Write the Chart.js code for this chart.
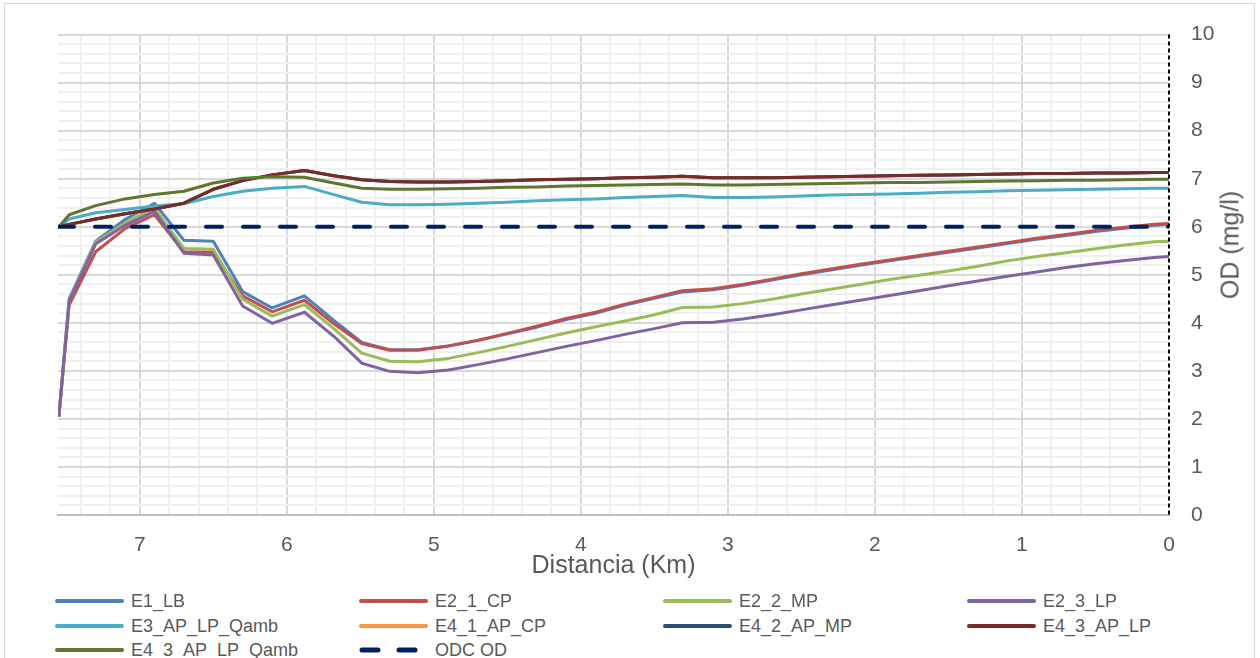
<!DOCTYPE html>
<html lang="es">
<head>
<meta charset="utf-8">
<title>OD vs distancia</title>
<script src="https://cdn.jsdelivr.net/npm/chart.js@4.4.1/dist/chart.umd.min.js"></script>
<style>
  html, body { margin: 0; padding: 0; background: #fff; }
  #wrap { position: relative; width: 1260px; height: 658px; overflow: hidden; font-family: "Liberation Sans", Arial, sans-serif; }
  #frame { position: absolute; left: 4px; top: 3px; width: 1251px; height: 720px; border: 1px solid #d9d9d9; box-sizing: border-box; }
  #chart { position: absolute; left: 0; top: 0; }
  #ytitle { position: absolute; left: 1230px; top: 245px; transform: translate(-50%, -50%) rotate(-90deg); font-size: 25px; color: #595959; white-space: nowrap; }
  #legend { position: absolute; left: 0; top: 0; width: 1260px; }
  .item { position: absolute; display: flex; align-items: center; height: 24px; font-size: 18px; color: #595959; white-space: nowrap; }
  .item svg { margin-right: 7px; }
</style>
</head>
<body>
<div id="wrap">
  <div id="frame"></div>
  <canvas id="chart" width="1260" height="590"></canvas>
  <div id="ytitle">OD (mg/l)</div>
  <div id="legend"></div>
</div>
<script>
"use strict";

// distancia (km), de aguas arriba hacia la desembocadura
const distancia = [7.55, 7.48, 7.3, 7.1, 6.9, 6.7, 6.5, 6.3, 6.1, 5.88, 5.68, 5.49, 5.3, 5.11, 4.9, 4.7, 4.5, 4.3, 4.1, 3.9,
  3.7, 3.5, 3.31, 3.1, 2.9, 2.7, 2.5, 2.3, 2.1, 1.9, 1.7, 1.5, 1.3, 1.1, 0.9, 0.7, 0.5, 0.3, 0.1, 0];

const e1_LB = [2.05, 4.50, 5.70, 6.15, 6.49, 5.72, 5.70, 4.65, 4.31, 4.56, 4.05, 3.59, 3.44, 3.44, 3.52, 3.63, 3.77, 3.91, 4.07, 4.20,
  4.37, 4.51, 4.64, 4.69, 4.78, 4.89, 5.00, 5.10, 5.20, 5.29, 5.38, 5.47, 5.56, 5.65, 5.74, 5.82, 5.90, 5.97, 6.03, 6.05];
const e2_1_CP = [2.05, 4.37, 5.48, 5.96, 6.25, 5.48, 5.47, 4.56, 4.23, 4.47, 3.98, 3.57, 3.43, 3.43, 3.52, 3.64, 3.78, 3.93, 4.09, 4.22,
  4.39, 4.53, 4.67, 4.71, 4.80, 4.91, 5.02, 5.12, 5.22, 5.31, 5.40, 5.49, 5.58, 5.67, 5.76, 5.84, 5.92, 5.99, 6.05, 6.07];
const e2_2_MP = [2.05, 4.47, 5.68, 6.08, 6.39, 5.55, 5.53, 4.49, 4.14, 4.38, 3.88, 3.37, 3.20, 3.19, 3.26, 3.38, 3.51, 3.65, 3.79, 3.92,
  4.04, 4.17, 4.32, 4.33, 4.40, 4.49, 4.60, 4.70, 4.80, 4.90, 4.99, 5.08, 5.18, 5.29, 5.38, 5.46, 5.54, 5.62, 5.69, 5.70];
const e2_3_LP = [2.05, 4.45, 5.64, 6.03, 6.32, 5.45, 5.41, 4.35, 3.99, 4.22, 3.72, 3.16, 2.99, 2.96, 3.02, 3.13, 3.25, 3.38, 3.51, 3.63,
  3.76, 3.88, 4.00, 4.01, 4.08, 4.17, 4.27, 4.37, 4.47, 4.57, 4.67, 4.77, 4.87, 4.97, 5.06, 5.15, 5.23, 5.30, 5.36, 5.38];
const e3_AP_LP_Qamb = [6.00, 6.16, 6.29, 6.36, 6.43, 6.48, 6.63, 6.74, 6.80, 6.84, 6.67, 6.51, 6.46, 6.46, 6.47, 6.49, 6.51, 6.54, 6.56, 6.58,
  6.61, 6.63, 6.65, 6.61, 6.61, 6.62, 6.64, 6.66, 6.67, 6.68, 6.70, 6.72, 6.73, 6.75, 6.76, 6.77, 6.78, 6.79, 6.80, 6.80];
const e4_1_AP_CP = [6.00, 6.05, 6.16, 6.27, 6.37, 6.49, 6.78, 6.96, 7.08, 7.17, 7.06, 6.98, 6.94, 6.93, 6.93, 6.94, 6.96, 6.98, 6.99, 7.00,
  7.02, 7.03, 7.05, 7.02, 7.02, 7.02, 7.03, 7.04, 7.05, 7.06, 7.07, 7.08, 7.09, 7.10, 7.11, 7.11, 7.12, 7.12, 7.13, 7.13];
const e4_2_AP_MP = [6.00, 6.05, 6.16, 6.27, 6.37, 6.49, 6.78, 6.96, 7.08, 7.17, 7.06, 6.98, 6.94, 6.93, 6.93, 6.94, 6.96, 6.98, 6.99, 7.00,
  7.02, 7.03, 7.05, 7.02, 7.02, 7.02, 7.03, 7.04, 7.05, 7.06, 7.07, 7.08, 7.09, 7.10, 7.11, 7.11, 7.12, 7.12, 7.13, 7.13];
const e4_3_AP_LP = [6.00, 6.05, 6.16, 6.27, 6.37, 6.49, 6.78, 6.96, 7.08, 7.17, 7.06, 6.98, 6.94, 6.93, 6.93, 6.94, 6.96, 6.98, 6.99, 7.00,
  7.02, 7.03, 7.05, 7.02, 7.02, 7.02, 7.03, 7.04, 7.05, 7.06, 7.07, 7.08, 7.09, 7.10, 7.11, 7.11, 7.12, 7.12, 7.13, 7.13];
const e4_3_AP_LP_Qamb = [6.00, 6.25, 6.44, 6.58, 6.67, 6.74, 6.91, 7.01, 7.04, 7.03, 6.91, 6.80, 6.78, 6.78, 6.79, 6.80, 6.82, 6.83, 6.85, 6.86,
  6.87, 6.88, 6.89, 6.87, 6.87, 6.88, 6.89, 6.90, 6.91, 6.92, 6.92, 6.93, 6.94, 6.95, 6.96, 6.97, 6.97, 6.98, 6.99, 6.99];

// objetivo de calidad (ODC)
const odcDist = [7.556, 0];
const odcOD = [6, 6];

const xTickLabels = [0, 1, 2, 3, 4, 5, 6, 7];
const yTickLabels = [0, 1, 2, 3, 4, 5, 6, 7, 8, 9, 10];
const xMax = 7.556;
const minorStep = 0.2;

const series = [
  { label: "E1_LB", data: e1_LB, color: "#4f81bd" },
  { label: "E2_1_CP", data: e2_1_CP, color: "#c0504d" },
  { label: "E2_2_MP", data: e2_2_MP, color: "#9bbb59" },
  { label: "E2_3_LP", data: e2_3_LP, color: "#8064a2" },
  { label: "E3_AP_LP_Qamb", data: e3_AP_LP_Qamb, color: "#4bacc6" },
  { label: "E4_1_AP_CP", data: e4_1_AP_CP, color: "#f79646" },
  { label: "E4_2_AP_MP", data: e4_2_AP_MP, color: "#2c4d75" },
  { label: "E4_3_AP_LP", data: e4_3_AP_LP, color: "#772c2a" },
  { label: "E4_3_AP_LP_Qamb", data: e4_3_AP_LP_Qamb, color: "#5f7530" },
];

const tickColor = "#595959";
const fontFamily = "'Liberation Sans', Arial, sans-serif";
const isMajor = (v) => Math.abs(v - Math.round(v)) < 1e-6;

const minorTicks = (max) => {
  const out = [];
  for (let i = 0; i * minorStep <= max + 1e-9; i++) out.push(Math.round(i * minorStep * 10) / 10);
  return out;
};

const gridColor = (ctx) => (ctx.tick.value === 0 ? "rgba(0,0,0,0)" : isMajor(ctx.tick.value) ? "#d9d9d9" : "#f0f0f0");

// eje vertical punteado en x = 0 (el border.dash de Chart.js también puntearía la rejilla)
const dashedAxis = {
  id: "dashedAxis",
  afterDatasetsDraw(chart) {
    const { ctx, chartArea } = chart;
    const x = chart.scales.x.getPixelForValue(0);
    ctx.save();
    ctx.strokeStyle = "#000";
    ctx.lineWidth = 2;
    ctx.setLineDash([4, 3]);
    ctx.beginPath();
    ctx.moveTo(x, chartArea.top);
    ctx.lineTo(x, chartArea.bottom);
    ctx.stroke();
    ctx.restore();
  },
};

const datasets = series.map((s, i) => ({
  label: s.label,
  data: distancia.map((d, j) => ({ x: d, y: s.data[j] })),
  borderColor: s.color,
  backgroundColor: s.color,
  borderWidth: 3,
  pointRadius: 0,
  tension: 0,
  borderJoinStyle: "round",
  order: series.length + 1 - i,
}));
datasets.push({
  label: "ODC OD",
  data: odcDist.map((d, j) => ({ x: d, y: odcOD[j] })),
  borderColor: "#002060",
  backgroundColor: "#002060",
  borderWidth: 4,
  borderDash: [16, 21],
  borderCapStyle: "round",
  pointRadius: 0,
  order: 0,
});

new Chart(document.getElementById("chart"), {
  type: "line",
  data: { datasets },
  plugins: [dashedAxis],
  options: {
    responsive: false,
    animation: false,
    layout: { padding: { left: 58, top: 30, right: 0, bottom: 9 } },
    plugins: { legend: { display: false }, tooltip: { enabled: false } },
    scales: {
      x: {
        type: "linear",
        reverse: true,
        min: 0,
        max: xMax,
        afterBuildTicks: (s) => { s.ticks = minorTicks(xMax).map((v) => ({ value: v })); },
        afterFit: (s) => { s.height = 66; },
        ticks: {
          autoSkip: false,
          maxRotation: 0,
          padding: 18,
          color: tickColor,
          font: { family: fontFamily, size: 21 },
          callback: (v) => (isMajor(v) && xTickLabels.includes(Math.round(v)) ? String(Math.round(v)) : ""),
        },
        grid: { drawTicks: false, color: gridColor, lineWidth: 2 },
        border: { color: "#bfbfbf", width: 2 },
        title: {
          display: true,
          text: "Distancia (Km)",
          color: tickColor,
          font: { family: fontFamily, size: 25 },
          padding: 0,
        },
      },
      y: {
        position: "right",
        min: 0,
        max: 10,
        afterBuildTicks: (s) => { s.ticks = minorTicks(10).map((v) => ({ value: v })); },
        afterFit: (s) => { s.width = 91; },
        ticks: {
          autoSkip: false,
          padding: 22,
          color: tickColor,
          font: { family: fontFamily, size: 21 },
          callback: (v) => (isMajor(v) && yTickLabels.includes(Math.round(v)) ? String(Math.round(v)) : ""),
        },
        grid: { drawTicks: false, color: gridColor, lineWidth: 2 },
        border: { display: false },
      },
    },
  },
});

// leyenda en cuatro columnas, como la del original
const legend = document.getElementById("legend");
const legendItems = series.map((s) => ({ label: s.label, color: s.color, dashed: false }))
  .concat([{ label: "ODC OD", color: "#002060", dashed: true }]);
const colLeft = [55, 359, 663, 967];
const rowTop = [589, 614, 638];
legendItems.forEach((it, i) => {
  const el = document.createElement("div");
  el.className = "item";
  el.style.left = colLeft[i % 4] + "px";
  el.style.top = rowTop[Math.floor(i / 4)] + "px";
  const line = it.dashed
    ? `<line x1="3" y1="4" x2="66" y2="4" stroke="${it.color}" stroke-width="5" stroke-linecap="round" stroke-dasharray="16 21"/>`
    : `<line x1="2" y1="4" x2="67" y2="4" stroke="${it.color}" stroke-width="4" stroke-linecap="round"/>`;
  el.innerHTML = `<svg width="69" height="8">${line}</svg><span>${it.label}</span>`;
  legend.appendChild(el);
});
</script>
</body>
</html>
